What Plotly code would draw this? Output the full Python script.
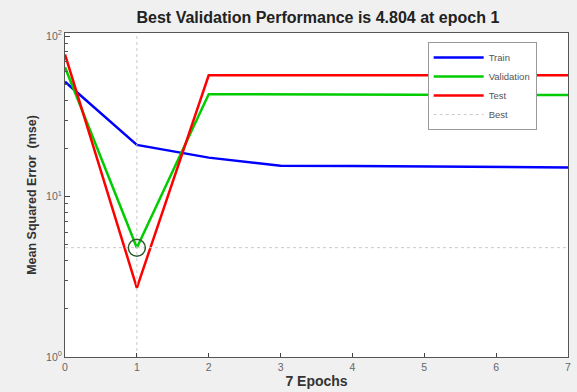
import plotly.graph_objects as go
import numpy as np

epochs = [0, 1, 2, 3, 4, 5, 6, 7]
train = [52, 21, 17.5, 15.6, 15.5, 15.4, 15.3, 15.2]
validation = [64, 4.804, 43.5, 43.3, 43.2, 43.1, 43.0, 43.0]
test = [77, 2.7, 57, 57, 57, 57, 57, 57]
best_epoch = 1
best_value = 4.804
title = "Best Validation Performance is 4.804 at epoch 1"

FONT = "Liberation Sans, Arial, sans-serif"

fig = go.Figure()
fig.add_trace(go.Scatter(x=epochs, y=train, mode="lines", name="Train",
                         line=dict(color="#0000ff", width=2.5)))
fig.add_trace(go.Scatter(x=epochs, y=validation, mode="lines", name="Validation",
                         line=dict(color="#00cc00", width=2.5)))
fig.add_trace(go.Scatter(x=epochs, y=test, mode="lines", name="Test",
                         line=dict(color="#ff0000", width=2.5)))
fig.add_trace(go.Scatter(x=[0, 7], y=[best_value, best_value], mode="lines", name="Best",
                         line=dict(color="#c8c8c8", width=1, dash="dot")))
fig.add_trace(go.Scatter(x=[best_epoch, best_epoch], y=[1, 110], mode="lines", name="Best",
                         showlegend=False, line=dict(color="#c8c8c8", width=1, dash="dot")))
fig.add_trace(go.Scatter(x=[best_epoch], y=[best_value], mode="markers", showlegend=False,
                         marker=dict(symbol="circle-open", size=17, color="#2d5a2d",
                                     line=dict(width=1.5))))

minor_vals = [m * 10 ** k for k in range(0, 2) for m in range(2, 10)]

fig.update_layout(
    width=577, height=392,
    margin=dict(l=65, r=6, t=33, b=35),
    paper_bgcolor="#f0f0f0", plot_bgcolor="white",
    font=dict(family=FONT, size=10, color="#444"),
    title=dict(text="<b>" + title + "</b>", x=0.551, xanchor="center", y=0.955, yanchor="middle",
               font=dict(size=16, color="#222", family=FONT)),
    showlegend=True,
    legend=dict(x=0.721, y=0.972, xanchor="left", yanchor="top",
                bgcolor="white", bordercolor="#999", borderwidth=1,
                font=dict(size=9.5, color="#555", family=FONT),
                tracegroupgap=0, itemwidth=50),
)
fig.update_xaxes(range=[0, 7], tickvals=epochs, ticks="inside", ticklen=4,
                 showgrid=False, zeroline=False, showline=True, linecolor="#555",
                 linewidth=1, mirror=True,
                 title=dict(text="<b>7 Epochs</b>", standoff=4,
                            font=dict(size=14, color="#333", family=FONT)),
                 tickfont=dict(size=10.5, color="#666"))
fig.update_yaxes(type="log", range=[0, 2.02], tickvals=[1, 10, 100],
                 ticktext=["10<sup>0</sup>", "10<sup>1</sup>", "10<sup>2</sup>"],
                 ticks="inside", ticklen=5, showgrid=False, zeroline=False,
                 showline=True, linecolor="#555", linewidth=1, mirror=True,
                 minor=dict(tickvals=minor_vals, ticks="inside", ticklen=3, tickcolor="#555"),
                 title=dict(text="<b>Mean Squared Error  (mse)</b>", standoff=6,
                            font=dict(size=12.5, color="#333", family=FONT)),
                 tickfont=dict(size=10.5, color="#666"))

fig.write_html("out.html")
